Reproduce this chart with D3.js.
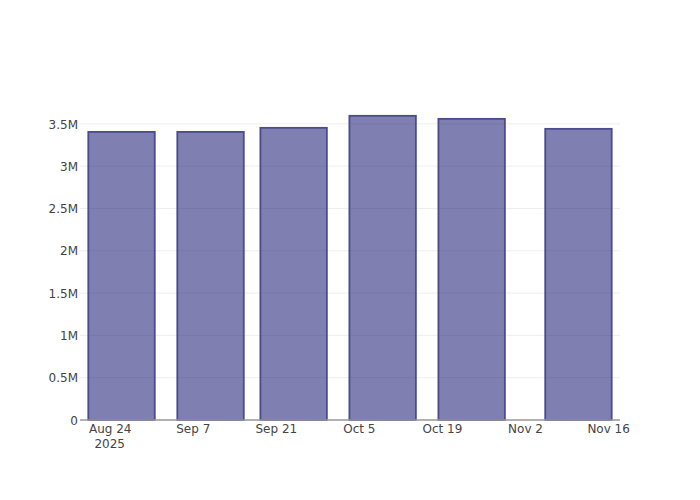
<!DOCTYPE html>
<html>
<head>
<meta charset="utf-8">
<script src="https://cdn.jsdelivr.net/npm/d3@7"></script>
<style>
  body { margin: 0; background: #fff; }
  text { font-family: "DejaVu Sans", Verdana, sans-serif; font-size: 12px; fill: #444; }
</style>
</head>
<body>
<div id="chart"></div>
<script>
// data
var dates = ["2025-08-26", "2025-09-10", "2025-09-24", "2025-10-09", "2025-10-24", "2025-11-11"];
var values = [3405000, 3405000, 3453000, 3595000, 3559000, 3441000];
var xTicks = ["2025-08-24", "2025-09-07", "2025-09-21", "2025-10-05", "2025-10-19", "2025-11-02", "2025-11-16"];
var yTicks = [0, 500000, 1000000, 1500000, 2000000, 2500000, 3000000, 3500000];

var margin = {top: 100, right: 80, bottom: 80, left: 80};
var width = 700, height = 500;
var w = width - margin.left - margin.right;
var h = height - margin.top - margin.bottom;

var parse = d3.utcParse("%Y-%m-%d");
var day = 24 * 3600 * 1000;

var svg = d3.select("#chart")
  .append("svg")
  .attr("width", width)
  .attr("height", height);

var g = svg.append("g")
  .attr("transform", "translate(" + margin.left + "," + margin.top + ")");

//time scale, padded a bit past the outer bars
var x = d3.scaleUtc()
  .domain([parse("2025-08-19"), parse("2025-11-18")])
  .range([0, w]);

var y = d3.scaleLinear()
  .domain([0, 3595000 * 1.052])
  .range([h, 0]);

//bar width = 80% of the smallest gap (14 days)
var barW = x(new Date(parse(dates[0]).getTime() + 14 * day * 0.8)) - x(parse(dates[0]));

//gridlines
g.append("g")
  .selectAll("line")
  .data(yTicks.slice(1))
  .enter()
  .append("line")
  .attr("x1", 0)
  .attr("x2", w)
  .attr("y1", function(d) { return y(d); })
  .attr("y2", function(d) { return y(d); })
  .attr("stroke", "#eee")
  .attr("stroke-width", 1);

//y labels
var fmt = function(d) { return d === 0 ? "0" : (d / 1e6) + "M"; };
var yAxis = d3.axisLeft(y)
  .tickValues(yTicks)
  .tickFormat(fmt)
  .tickSize(0)
  .tickPadding(2);

g.append("g")
  .attr("class", "y-axis")
  .call(yAxis)
  .call(function(s) { s.select(".domain").remove(); })
  .selectAll("text")
  .attr("dy", "0.35em");

//bars
g.selectAll("rect.bar")
  .data(dates)
  .enter()
  .append("rect")
  .attr("class", "bar")
  .attr("x", function(d) { return x(parse(d)) - barW / 2; })
  .attr("y", function(d, i) { return y(values[i]); })
  .attr("width", barW)
  .attr("height", function(d, i) { return h - y(values[i]); })
  .attr("fill", "rgba(0,0,102,0.5)")
  .attr("stroke", "#4b4b8f")
  .attr("stroke-width", 1.8);

//x axis
var monthFmt = d3.utcFormat("%b %-d");
var xAxis = d3.axisBottom(x)
  .tickValues(xTicks.map(parse))
  .tickFormat(function(d) { return monthFmt(d); })
  .tickSize(0)
  .tickPadding(4);

var xg = g.append("g")
  .attr("class", "x-axis")
  .attr("transform", "translate(0," + h + ")")
  .call(xAxis);

xg.select(".domain").remove();
xg.append("line")
  .attr("x1", 0)
  .attr("x2", w)
  .attr("stroke", "#999")
  .attr("stroke-width", 1.5);

//year under the first tick
xg.append("text")
  .attr("x", x(parse(xTicks[0])))
  .attr("y", 19)
  .attr("dy", "0.71em")
  .attr("text-anchor", "middle")
  .text("2025");
</script>
</body>
</html>
